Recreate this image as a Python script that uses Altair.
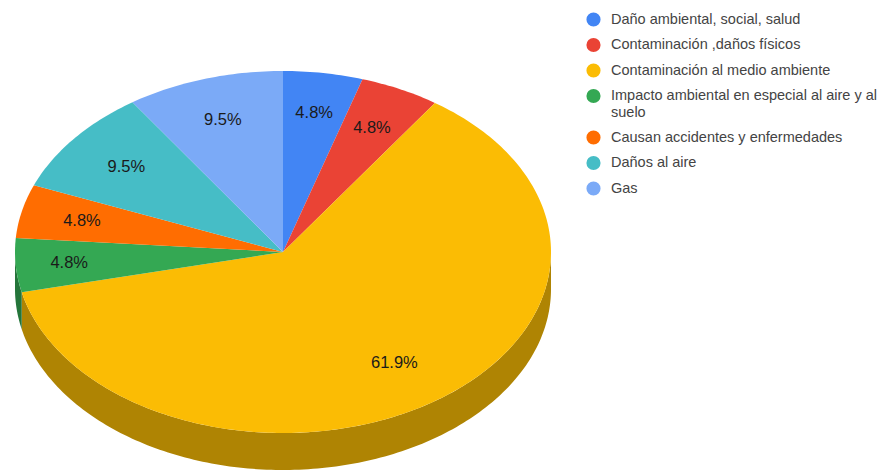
import math

import altair as alt
import pandas as pd

categories = [
    "Daño ambiental, social, salud",
    "Contaminación ,daños físicos",
    "Contaminación al medio ambiente",
    "Impacto ambiental en especial al aire y al suelo",
    "Causan accidentes y enfermedades",
    "Daños al aire",
    "Gas",
]
percentages = [4.8, 4.8, 61.9, 4.8, 4.8, 9.5, 9.5]
top_colors = ["#4285f4", "#ea4335", "#fbbc04", "#34a853", "#ff6d01", "#46bdc6", "#7baaf7"]
side_colors = ["#2e5dab", "#a32f25", "#af8403", "#24753a", "#b24c01", "#31848a", "#5677ac"]

WIDTH, HEIGHT = 878, 471
CX, CY, RX, RY, DEPTH = 283, 252, 268, 181, 37
ARC_STEP = 1.0

# Distance of each percentage label from the centre, as a share of the radius.
LABEL_RADII = [0.775, 0.76, 0.74, 0.80, 0.77, 0.75, 0.765]

# Sector outlines live in pixel-sized data units; angles run clockwise from 12 o'clock.
total = sum(percentages)
top_rows, side_rows, label_rows = [], [], []
start = 0.0


def rim(angle):
    rad = math.radians(angle)
    return CX + RX * math.sin(rad), CY - RY * math.cos(rad)


def arc_angles(a, b):
    n = max(2, int((b - a) / ARC_STEP) + 1)
    return [a + (b - a) * i / n for i in range(n + 1)]


for name, pct, label_radius in zip(categories, percentages, LABEL_RADII):
    end = start + pct / total * 360
    order = 0
    top_rows.append({"cat": name, "x": CX, "y": CY, "o": order})
    for angle in arc_angles(start, end):
        order += 1
        x, y = rim(angle)
        top_rows.append({"cat": name, "x": x, "y": y, "o": order})

    # Only the front half of the rim shows its side wall.
    lo, hi = max(start, 90), min(end, 270)
    if lo < hi:
        order = 0
        front = arc_angles(lo, hi)
        for angle in front:
            x, y = rim(angle)
            side_rows.append({"cat": name, "x": x, "y": y, "o": order})
            order += 1
        for angle in reversed(front):
            x, y = rim(angle)
            side_rows.append({"cat": name, "x": x, "y": y + DEPTH, "o": order})
            order += 1

    mid = math.radians((start + end) / 2)
    label_rows.append({
        "cat": name,
        "x": CX + RX * label_radius * math.sin(mid),
        "y": CY - RY * label_radius * math.cos(mid),
        "text": f"{pct:.1f}%",
    })
    start = end

x_scale = alt.Scale(domain=[0, WIDTH], nice=False, zero=False)
y_scale = alt.Scale(domain=[HEIGHT, 0], nice=False, zero=False)
x_enc = alt.X("x:Q", scale=x_scale, axis=None)
y_enc = alt.Y("y:Q", scale=y_scale, axis=None)

side = (
    alt.Chart(pd.DataFrame(side_rows))
    .mark_line(filled=True, interpolate="linear-closed", strokeWidth=0)
    .encode(
        x=x_enc,
        y=y_enc,
        order="o:Q",
        detail="cat:N",
        fill=alt.Fill("cat:N", sort=categories, legend=None,
                      scale=alt.Scale(domain=categories, range=side_colors)),
    )
)

top = (
    alt.Chart(pd.DataFrame(top_rows))
    .mark_line(filled=True, interpolate="linear-closed", strokeWidth=0)
    .encode(
        x=x_enc,
        y=y_enc,
        order="o:Q",
        detail="cat:N",
        fill=alt.Fill(
            "cat:N",
            sort=categories,
            scale=alt.Scale(domain=categories, range=top_colors),
            legend=alt.Legend(
                title=None,
                orient="none",
                legendX=586,
                legendY=12,
                symbolType="circle",
                symbolSize=200,
                symbolStrokeWidth=0,
                labelFont="Liberation Sans",
                labelFontSize=14.5,
                labelColor="#444444",
                labelLimit=292,
                labelOffset=10,
                rowPadding=9.5,
                labelExpr="datum.label == 'Impacto ambiental en especial al aire y al suelo'"
                          " ? ['Impacto ambiental en especial al aire y al', 'suelo'] : datum.label",
            ),
        ),
    )
)

labels = (
    alt.Chart(pd.DataFrame(label_rows))
    .mark_text(font="Liberation Sans", fontSize=16.5, color="#1a1a1a")
    .encode(x=x_enc, y=y_enc, text="text:N")
)

chart = (
    alt.layer(side, top, labels)
    .resolve_scale(fill="independent")
    .properties(width=WIDTH, height=HEIGHT, padding=0,
                autosize=alt.AutoSizeParams(type="none"), background="white")
    .configure_view(stroke=None)
)

chart.save("out.html", embed_options={"renderer": "svg", "actions": False})
